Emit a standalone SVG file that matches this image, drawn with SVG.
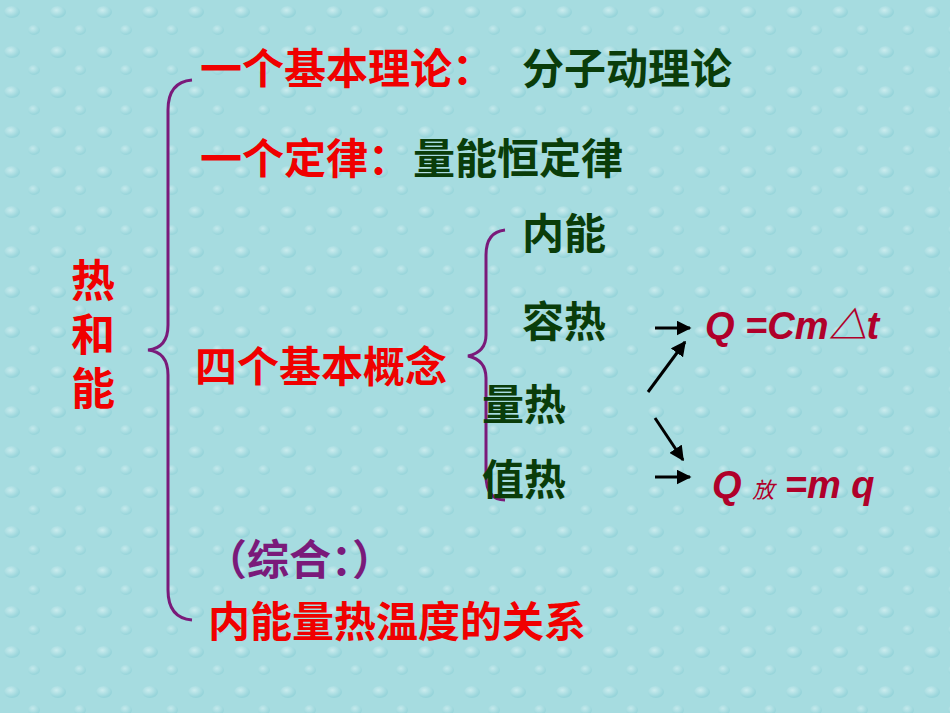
<svg xmlns="http://www.w3.org/2000/svg" width="950" height="713" viewBox="0 0 950 713">
<defs>
<radialGradient id="drop" cx="0.4" cy="0.35" r="0.6"><stop offset="0" stop-color="#e4f7f8"/><stop offset="1" stop-color="#8ccfd6"/></radialGradient>
<pattern id="bg" width="46" height="40" patternUnits="userSpaceOnUse">
<rect width="46" height="40" fill="#a6dce0"/>
<ellipse cx="12" cy="12" rx="8" ry="6" fill="url(#drop)" opacity="0.6"/>
<ellipse cx="34" cy="30" rx="6" ry="5" fill="url(#drop)" opacity="0.5"/>
</pattern>
<marker id="ah" viewBox="0 0 10 10" refX="9" refY="5" markerWidth="5" markerHeight="5" orient="auto"><path d="M0,0L10,5L0,10z" fill="#000"/></marker>
<style>
.r{font-family:"Noto Sans CJK SC","Liberation Sans",sans-serif;font-weight:bold;font-size:42px;fill:#f00000}
.g{font-family:"Noto Sans CJK SC","Liberation Sans",sans-serif;font-weight:bold;font-size:42px;fill:#0a3d0a}
.f{font-family:"Liberation Sans","Noto Sans CJK SC",sans-serif;font-weight:bold;font-style:italic;font-size:38px;fill:#b0002a}
.br{fill:none;stroke:#7a1a7a;stroke-width:3}
.ar{stroke:#000;stroke-width:3;marker-end:url(#ah)}
</style>
</defs>
<rect width="950" height="713" fill="url(#bg)"/>
<g id="root"><text class="r" style="font-size:44px;writing-mode:vertical-rl;letter-spacing:10px" x="93" y="258">热和能</text></g>
<g id="connectors">
<path class="br" d="M192,80 Q168,82 168,110 L168,325 Q168,348 148,350 Q168,352 168,375 L168,590 Q168,618 192,620"/>
<path class="br" d="M505,230 Q486,232 486,255 L486,335 Q486,352 468,356 Q486,360 486,378 L486,475 Q486,500 505,500"/>
<line class="ar" x1="655" y1="328" x2="690" y2="328"/>
<line class="ar" x1="648" y1="392" x2="685" y2="342"/>
<line class="ar" x1="655" y1="418" x2="683" y2="460"/>
<line class="ar" x1="655" y1="477" x2="690" y2="477"/>
</g>
<g id="n1"><text class="r" x="200" y="84">一个基本理论：</text><text class="g" x="522" y="84">分子动理论</text></g>
<g id="n2"><text class="r" x="200" y="174">一个定律：</text><text class="g" x="413" y="174">量能恒定律</text></g>
<g id="n3"><text class="r" x="195" y="382">四个基本概念</text></g>
<g id="c1"><text class="g" x="522" y="249">内能</text></g>
<g id="c2"><text class="g" x="522" y="337">容热</text></g>
<g id="c3"><text class="g" x="482" y="420">量热</text></g>
<g id="c4"><text class="g" x="482" y="495">值热</text></g>
<g id="fm1"><text class="f" x="705" y="339">Q =Cm△t</text></g>
<g id="fm2"><text class="f" x="712" y="498">Q <tspan style="font-size:22px;font-weight:normal">放</tspan> =m q</text></g>
<g id="n4"><text class="r" style="fill:#7a1a7a" x="205" y="575">（综合：）</text></g>
<g id="n5"><text class="r" x="208" y="637">内能量热温度的关系</text></g>
</svg>
